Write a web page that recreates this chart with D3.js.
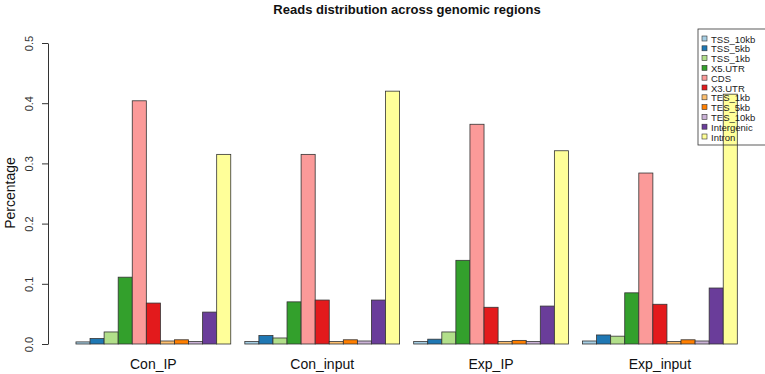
<!DOCTYPE html>
<html>
<head>
<meta charset="utf-8">
<script src="https://cdn.jsdelivr.net/npm/d3@7"></script>
<style>
body { margin: 0; background: #fff; }
text { font-family: "Liberation Sans", Arial, Helvetica, sans-serif; }
</style>
</head>
<body>
<div id="chart"></div>
<script>
var groups = ["Con_IP", "Con_input", "Exp_IP", "Exp_input"];
var regions = ["TSS_10kb", "TSS_5kb", "TSS_1kb", "X5.UTR", "CDS", "X3.UTR",
               "TES_1kb", "TES_5kb", "TES_10kb", "Intergenic", "Intron"];
var conIP    = [0.0035, 0.009, 0.020, 0.111, 0.404, 0.068, 0.005, 0.007, 0.004, 0.053, 0.315];
var conInput = [0.004, 0.014, 0.010, 0.070, 0.315, 0.073, 0.004, 0.007, 0.005, 0.073, 0.420];
var expIP    = [0.004, 0.008, 0.020, 0.139, 0.365, 0.061, 0.004, 0.006, 0.004, 0.063, 0.321];
var expInput = [0.005, 0.015, 0.013, 0.085, 0.284, 0.066, 0.004, 0.007, 0.005, 0.093, 0.415];
var yTicks = [0, 0.1, 0.2, 0.3, 0.4, 0.5];
var colors = ["#A6CEE3", "#1F78B4", "#B2DF8A", "#33A02C", "#FB9A99", "#E31A1C",
              "#FDBF6F", "#FF7F00", "#CAB2D6", "#6A3D9A", "#FFFF99"];

var series = [conIP, conInput, expIP, expInput];
var width = 765, height = 374;

var svg = d3.select("#chart").append("svg")
    .attr("width", width)
    .attr("height", height);

// barplot(beside=TRUE): each group = 1 space + 11 bars
var perGroup = regions.length + 1;
var x = d3.scaleLinear().domain([0, groups.length * perGroup]).range([61.9, 737.3]);
var y = d3.scaleLinear().domain([0, 0.5]).range([344, 43]);

var color = d3.scaleOrdinal().domain(regions).range(colors);

// legend (drawn first, bars show through it)
var legend = svg.append("g").attr("transform", "translate(698,29)");
legend.append("rect")
    .attr("width", 80).attr("height", 116)
    .attr("fill", "none").attr("stroke", "#333").attr("stroke-width", 0.8);
var items = legend.selectAll(".legend")
    .data(regions)
    .enter()
    .append("g")
    .attr("class", "legend")
    .attr("transform", function(d, i) { return "translate(4," + (10 + i * 9.8) + ")"; });
items.append("rect")
    .attr("x", 0).attr("y", -3)
    .attr("width", 5).attr("height", 5)
    .attr("fill", function(d) { return color(d); })
    .attr("stroke", "#333").attr("stroke-width", 0.6);
items.append("text")
    .attr("x", 9).attr("y", 3.5)
    .attr("font-size", 9.5)
    .attr("fill", "#222")
    .text(function(d) { return d; });

// bars
var rows = [];
series.forEach(function(vals, g) {
  vals.forEach(function(v, i) {
    rows.push({ group: g, region: regions[i], idx: i, value: v });
  });
});
svg.append("g").selectAll("rect")
    .data(rows)
    .enter()
    .append("rect")
    .attr("x", function(d) { return x(d.group * perGroup + 1 + d.idx); })
    .attr("width", function(d) { return x(1) - x(0); })
    .attr("y", function(d) { return y(d.value); })
    .attr("height", function(d) { return y(0) - y(d.value); })
    .attr("fill", function(d) { return color(d.region); })
    .attr("stroke", "#333")
    .attr("stroke-width", 0.8);

// legend text on top of the bars
legend.raise();
legend.select("rect").lower();

// y axis
var yAxis = svg.append("g")
    .attr("transform", "translate(48,0)")
    .call(d3.axisLeft(y).tickValues(yTicks).tickFormat(d3.format(".1f")).tickSize(6).tickSizeOuter(0));
yAxis.selectAll("path, line").attr("stroke", "#333");
yAxis.selectAll("text")
    .attr("transform", "rotate(-90)")
    .attr("x", 0).attr("y", -15).attr("dy", 0)
    .attr("text-anchor", "middle")
    .attr("font-size", 11)
    .attr("font-family", "Liberation Sans, Arial, sans-serif")
    .attr("fill", "#333");

// group labels
svg.append("g").selectAll("text")
    .data(groups)
    .enter()
    .append("text")
    .attr("x", function(d, g) { return x(g * perGroup + 1 + regions.length / 2); })
    .attr("y", 369)
    .attr("text-anchor", "middle")
    .attr("font-size", 14)
    .attr("fill", "#111")
    .text(function(d) { return d; });

// y label
svg.append("text")
    .attr("transform", "translate(15,193) rotate(-90)")
    .attr("text-anchor", "middle")
    .attr("font-size", 14)
    .attr("fill", "#111")
    .text("Percentage");

// title
svg.append("text")
    .attr("x", 407).attr("y", 14)
    .attr("text-anchor", "middle")
    .attr("font-size", 13)
    .attr("font-weight", "bold")
    .attr("fill", "#111")
    .text("Reads distribution across genomic regions");
</script>
</body>
</html>
